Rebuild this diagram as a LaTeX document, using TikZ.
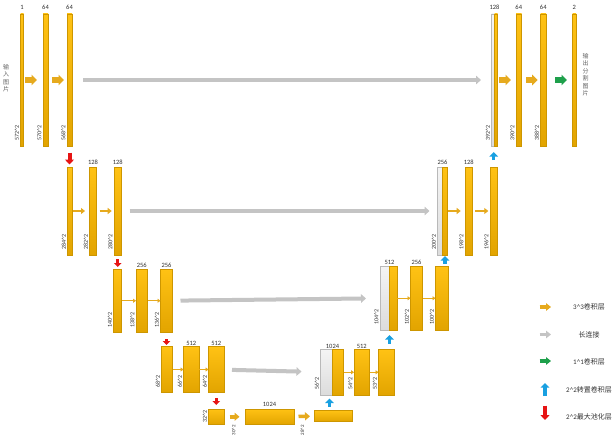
\documentclass[tikz,border=0pt]{standalone}
\usepackage{fontspec}
\setmainfont{Carlito}
\newfontfamily\cjk{Noto Sans CJK SC}
\usetikzlibrary{arrows.meta,calc,shadows}
\definecolor{bartop}{RGB}{255,194,20}
\definecolor{barbot}{RGB}{226,164,0}
\definecolor{barline}{RGB}{205,150,0}
\definecolor{cattop}{RGB}{244,244,244}
\definecolor{catbot}{RGB}{220,220,220}
\definecolor{catline}{RGB}{185,185,185}
\definecolor{convc}{RGB}{230,170,30}
\definecolor{skipc}{RGB}{196,196,196}
\definecolor{greenc}{RGB}{30,160,75}
\definecolor{bluec}{RGB}{25,160,225}
\definecolor{redc}{RGB}{230,20,20}
\definecolor{txt}{RGB}{50,50,50}
\definecolor{cjktxt}{RGB}{100,100,100}
\newcommand\mkbar[6][bar]{%
  \pgfmathsetmacro\bw{#5-#3}\pgfmathsetmacro\bh{#6-#4}%
  \node[#1,minimum width=\bw pt,minimum height=\bh pt] (#2) at (#3,#4) {};}
\newcommand\pw[1]{#1\textasciicircum 2}
\begin{document}
\begin{tikzpicture}[x=1pt,y=-1pt,
  bar/.style={shape=rectangle,draw=barline,line width=0.4pt,top color=bartop,bottom color=barbot,
    inner sep=0pt,outer sep=0pt,anchor=north west,
    drop shadow={shadow xshift=0.6pt,shadow yshift=-0.6pt,opacity=0.3,fill=black!60}},
  cat/.style={bar,draw=catline,top color=cattop,bottom color=catbot},
  toplab/.style={font=\fontsize{6.5}{7}\selectfont,text=txt,inner sep=0.6pt,anchor=south},
  sidelab/.style={font=\fontsize{6}{7}\selectfont,text=txt,inner sep=0pt,rotate=90,anchor=south west},
  cjklab/.style={font=\fontsize{6}{7.5}\selectfont\cjk,text=cjktxt,align=center,inner sep=0pt},
  legtxt/.style={font=\fontsize{7}{8}\selectfont,text=txt,inner sep=0pt},
  convL/.style={draw=convc,line width=5pt,-{Triangle[length=5.5pt,width=10.5pt]}},
  convM/.style={draw=convc,line width=2.5pt,-{Triangle[length=4pt,width=6pt]}},
  convN/.style={draw=convc,line width=3.5pt,-{Triangle[length=5pt,width=8pt]}},
  convS/.style={draw=convc,line width=1.2pt,-{Triangle[length=3pt,width=4pt]}},
  convLeg/.style={draw=convc,line width=3.3pt,-{Triangle[length=5pt,width=7.5pt]}},
  skip/.style={draw=skipc,line width=4pt,-{Triangle[length=5pt,width=8.5pt]}},
  skipLeg/.style={draw=skipc,line width=3.3pt,-{Triangle[length=5pt,width=7.5pt]}},
  outc/.style={draw=greenc,line width=5pt,-{Triangle[length=5.5pt,width=10.5pt]}},
  outLeg/.style={draw=greenc,line width=3.3pt,-{Triangle[length=5pt,width=7.5pt]}},
  upc/.style={draw=bluec,line width=3.2pt,-{Triangle[length=4.5pt,width=8.5pt]}},
  poolL/.style={draw=redc,line width=4pt,-{Triangle[length=5pt,width=9pt]}},
  poolS/.style={draw=redc,line width=3pt,-{Triangle[length=4pt,width=7.5pt]}},
]
\fill[white] (0,0) rectangle (613,436);
\useasboundingbox (0,0) rectangle (613,436);

% ---------- level 1
\mkbar{a1}{20.5}{14}{23.5}{146}
\mkbar{a2}{43}{14}{48}{146}
\mkbar{a3}{67}{14}{72}{146}
\mkbar[cat]{u1g}{491.5}{14}{494.5}{146}
\mkbar{u1y}{494.5}{14}{497.5}{146}
\mkbar{a5}{516}{14}{521.5}{146}
\mkbar{a6}{540.5}{14}{546}{146}
\mkbar{a7}{572.5}{14}{576}{146}
% ---------- level 2
\mkbar{b1}{67.5}{167}{72.5}{255}
\mkbar{b2}{89.5}{167}{96.5}{255}
\mkbar{b3}{114}{167}{121.5}{255}
\mkbar[cat]{u2g}{437.5}{167}{442.5}{255}
\mkbar{u2y}{442.5}{167}{447.5}{255}
\mkbar{b5}{465}{167}{472.5}{255}
\mkbar{b6}{490}{167}{497.5}{255}
% ---------- level 3
\mkbar{c1}{113.5}{269}{121.5}{332.5}
\mkbar{c2}{136}{269}{147.5}{332.5}
\mkbar{c3}{160.5}{269}{172.5}{332.5}
\mkbar[cat]{u3g}{380}{266.5}{389.5}{330}
\mkbar{u3y}{389.5}{266.5}{397}{330}
\mkbar{c5}{410.5}{266.5}{422.5}{330}
\mkbar{c6}{435.5}{266.5}{448.5}{330}
% ---------- level 4
\mkbar{d1}{161.5}{346.5}{172.5}{392.5}
\mkbar{d2}{183.5}{346.5}{199}{392.5}
\mkbar{d3}{208.5}{346.5}{224}{392.5}
\mkbar[cat]{u4g}{320.5}{349.5}{332.5}{395}
\mkbar{u4y}{332.5}{349.5}{343.5}{395}
\mkbar{d5}{354}{349.5}{369.5}{395}
\mkbar{d6}{378.5}{349.5}{394.5}{395}
% ---------- level 5
\mkbar{e1}{208.5}{409}{224.5}{424.5}
\mkbar{e2}{245}{409}{294}{424.5}
\mkbar{e3}{314}{410.5}{352.5}{421.5}

% ---------- top labels
\node[toplab,yshift=4pt] (a1t) at (a1.north) {1};
\node[toplab,yshift=4pt] (a2t) at (a2.north) {64};
\node[toplab,yshift=4pt] (a3t) at (a3.north) {64};
\node[toplab,yshift=4pt] (u1t) at (u1g.north east) {128};
\node[toplab,yshift=4pt] (a5t) at (a5.north) {64};
\node[toplab,yshift=4pt] (a6t) at (a6.north) {64};
\node[toplab,yshift=4pt] (a7t) at (a7.north) {2};
\node[toplab,yshift=1.5pt] (b2t) at (b2.north) {128};
\node[toplab,yshift=1.5pt] (b3t) at (b3.north) {128};
\node[toplab,yshift=1.5pt] (u2t) at (u2g.north east) {256};
\node[toplab,yshift=1.5pt] (b5t) at (b5.north) {128};
\node[toplab,yshift=0.7pt] (c2t) at (c2.north) {256};
\node[toplab,yshift=0.7pt] (c3t) at (c3.north) {256};
\node[toplab,yshift=0.7pt] (u3t) at (u3g.north east) {512};
\node[toplab,yshift=0.7pt] (c5t) at (c5.north) {256};
\node[toplab] (d2t) at (d2.north) {512};
\node[toplab] (d3t) at (d3.north) {512};
\node[toplab] (u4t) at (u4g.north east) {1024};
\node[toplab] (d5t) at (d5.north) {512};
\node[toplab,yshift=2pt] (e2t) at (e2.north) {1024};

% ---------- side labels
\node[sidelab] (a1s) at ([xshift=-1.5pt,yshift=5pt]a1.south west) {\pw{572}};
\node[sidelab] (a2s) at ([xshift=-1.5pt,yshift=5pt]a2.south west) {\pw{570}};
\node[sidelab] (a3s) at ([xshift=-1.5pt,yshift=5pt]a3.south west) {\pw{568}};
\node[sidelab] (u1s) at ([xshift=-1.5pt,yshift=5pt]u1g.south west) {\pw{392}};
\node[sidelab] (a5s) at ([xshift=-1.5pt,yshift=5pt]a5.south west) {\pw{390}};
\node[sidelab] (a6s) at ([xshift=-1.5pt,yshift=5pt]a6.south west) {\pw{388}};
\node[sidelab] (b1s) at ([xshift=-1.5pt,yshift=5pt]b1.south west) {\pw{284}};
\node[sidelab] (b2s) at ([xshift=-1.5pt,yshift=5pt]b2.south west) {\pw{282}};
\node[sidelab] (b3s) at ([xshift=-1.5pt,yshift=5pt]b3.south west) {\pw{280}};
\node[sidelab] (u2s) at ([xshift=-1.5pt,yshift=5pt]u2g.south west) {\pw{200}};
\node[sidelab] (b5s) at ([xshift=-1.5pt,yshift=5pt]b5.south west) {\pw{198}};
\node[sidelab] (b6s) at ([xshift=-1.5pt,yshift=5pt]b6.south west) {\pw{196}};
\node[sidelab] (c1s) at ([xshift=-1.5pt,yshift=5pt]c1.south west) {\pw{140}};
\node[sidelab] (c2s) at ([xshift=-1.5pt,yshift=5pt]c2.south west) {\pw{138}};
\node[sidelab] (c3s) at ([xshift=-1.5pt,yshift=5pt]c3.south west) {\pw{136}};
\node[sidelab] (u3s) at ([xshift=-1.5pt,yshift=5pt]u3g.south west) {\pw{104}};
\node[sidelab] (c5s) at ([xshift=-1.5pt,yshift=5pt]c5.south west) {\pw{102}};
\node[sidelab] (c6s) at ([xshift=-1.5pt,yshift=5pt]c6.south west) {\pw{100}};
\node[sidelab] (d1s) at ([xshift=-1.5pt,yshift=5pt]d1.south west) {\pw{68}};
\node[sidelab] (d2s) at ([xshift=-1.5pt,yshift=5pt]d2.south west) {\pw{66}};
\node[sidelab] (d3s) at ([xshift=-1.5pt,yshift=5pt]d3.south west) {\pw{64}};
\node[sidelab] (u4s) at ([xshift=-1.5pt,yshift=5pt]u4g.south west) {\pw{56}};
\node[sidelab] (d5s) at ([xshift=-1.5pt,yshift=5pt]d5.south west) {\pw{54}};
\node[sidelab] (d6s) at ([xshift=-1.5pt,yshift=5pt]d6.south west) {\pw{53}};
\node[sidelab,anchor=south] (e1s) at ([xshift=-1.5pt]e1.west) {\pw{32}};
\coordinate (m12) at ($(e1.south east)!0.5!(e2.south west)$);
\coordinate (m23) at ($(e2.south east)!0.5!(e3.south west)$);
\node[sidelab,anchor=east,font=\fontsize{5}{6}\selectfont] (e2s) at ([xshift=-1pt,yshift=-0.5pt]m12) {\pw{30}};
\node[sidelab,anchor=east,font=\fontsize{5}{6}\selectfont] (e3s) at ([xshift=-1.5pt,yshift=-0.5pt]m23 |- e2.south) {\pw{28}};

% ---------- image captions
\node[cjklab] (inlab) at (6,78) {输\\入\\图\\片};
\node[cjklab] (outlab) at (585.5,74.5) {输\\出\\分\\割\\图\\片};

% ---------- level 1 connectors
\draw[convL,shorten <=1.5pt,shorten >=6pt] (a1) -- (a2);
\draw[convL,shorten <=4pt,shorten >=3pt] (a2) -- (a3);
\draw[skip,shorten <=11pt,shorten >=10.5pt] (a3) -- (u1g);
\draw[convL,shorten <=1.5pt,shorten >=5pt] (u1y) -- (a5);
\draw[convL,shorten <=4.5pt,shorten >=2.8pt] (a5) -- (a6);
\draw[outc,shorten <=9pt,shorten >=5.5pt] (a6) -- (a7);
\draw[poolL,shorten <=6.5pt,shorten >=2.5pt] (a3.south) -- (a3.south |- b1.north);
\draw[upc,shorten <=7pt,shorten >=6pt] (b6.north) -- (b6.north |- u1y.south);
% ---------- level 2 connectors
\draw[convM,shorten >=4.5pt] (b1) -- (b2);
\draw[convM,shorten <=3pt,shorten >=2.3pt] (b2) -- (b3);
\draw[skip,shorten <=8pt,shorten >=8pt] (b3) -- (u2g);
\draw[convM,shorten >=4.3pt] (u2y) -- (b5);
\draw[convM,shorten <=2.5pt,shorten >=1.7pt] (b5) -- (b6);
\draw[poolS,shorten <=4pt,shorten >=2pt] (b3.south) -- (b3.south |- c1.north);
\draw[upc,shorten <=3pt,shorten >=1pt] (u2y.south |- c6.north) -- (u2y.south);
% ---------- level 3 connectors
\draw[convS] (c1) -- (c2);
\draw[convS] (c2) -- (c3);
\draw[skip,shorten <=8pt,shorten >=14pt] (c3) -- (u3g);
\draw[convS] (u3y) -- (c5);
\draw[convS] (c5) -- (c6);
\draw[poolS,shorten <=6.5pt,shorten >=1.5pt] (c3.south) -- (c3.south |- d1.north);
\draw[upc,shorten <=6pt,shorten >=5pt] (u3g.south east |- d6.north) -- (u3g.south east);
% ---------- level 4 connectors
\draw[convS] (d1) -- (d2);
\draw[convS] (d2) -- (d3);
\draw[skip,shorten <=8pt,shorten >=19pt] (d3) -- (u4g);
\draw[convS] (u4y) -- (d5);
\draw[convS] (d5) -- (d6);
\draw[poolS,shorten <=5.5pt,shorten >=4pt] (d3.south) -- (d3.south |- e1.north);
\coordinate (u4m) at ($(u4g.south)!0.5!(u4g.south east)$);
\draw[upc,shorten <=4pt,shorten >=3.5pt] (u4m |- e3.north) -- (u4m);
% ---------- level 5 connectors
\draw[convN,shorten <=5pt,shorten >=5.5pt] (e1) -- (e2);
\draw[convN,shorten <=4.5pt,shorten >=4pt] (e2) -- (e3);

% ---------- legend
\coordinate (k1a) at (539.5,307); \coordinate (k1b) at (551,307);
\coordinate (k2a) at (539.5,334.5); \coordinate (k2b) at (551,334.5);
\coordinate (k3a) at (539.5,361); \coordinate (k3b) at (551,361);
\coordinate (k4a) at (545,396); \coordinate (k4b) at (545,383);
\coordinate (k5a) at (545,405.5); \coordinate (k5b) at (545,420);
\draw[convLeg] (k1a) -- (k1b);
\draw[skipLeg] (k2a) -- (k2b);
\draw[outLeg] (k3a) -- (k3b);
\draw[upc] (k4a) -- (k4b);
\draw[poolL] (k5a) -- (k5b);
\node[legtxt] (k1t) at (589,307) {3\textasciicircum3{\cjk 卷积层}};
\node[legtxt] (k2t) at (589,334.5) {{\cjk 长连接}};
\node[legtxt] (k3t) at (589,361.5) {1\textasciicircum1{\cjk 卷积层}};
\node[legtxt] (k4t) at (589,389.5) {2\textasciicircum2{\cjk 转置卷积层}};
\node[legtxt] (k5t) at (589,416.5) {2\textasciicircum2{\cjk 最大池化层}};
\end{tikzpicture}
\end{document}
